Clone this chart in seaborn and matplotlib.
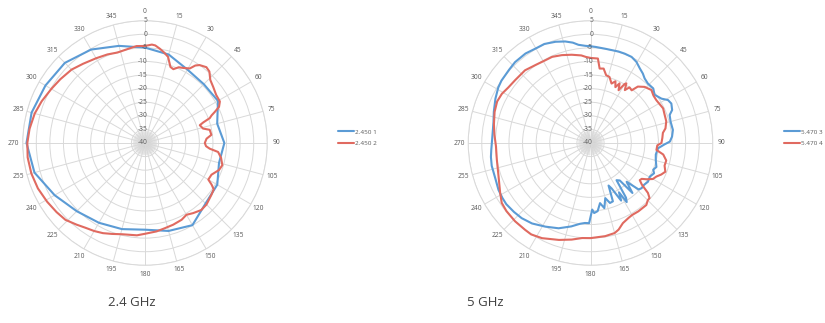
import numpy as np
import pandas as pd
import matplotlib
matplotlib.use("Agg")
import matplotlib.pyplot as plt
import matplotlib.transforms as mtransforms
from matplotlib.lines import Line2D
import seaborn as sns

# ---- data: radiation patterns (angle in degrees, gain in dB) ----
ang_24_1 = list(range(0, 360, 15))
gain_24_1 = [-4.9, -6.3, -8.8, -9.4, -9.0, -12.5, -10.8, -11.8, -9.3, -8.5, -5.1, -6.5,
             -8.1, -7.2, -6.1, -4.5, -1.6, 2.1, 3.6, 3.2, 2.3, 1.7, -0.3, -3.0]

ang_24_2 = [0, 4, 6, 9, 12, 15, 18.5, 21, 24, 27, 31, 33, 35, 39, 42, 46, 50.5, 56, 61, 64,
            66, 67.5, 69, 70.5, 72, 76, 78.5, 83, 86, 90, 93, 95, 97, 101, 106, 110, 115.5,
            120, 122, 124, 128, 135, 140, 145.5, 150, 154.5, 161, 167, 172.5, 180, 185, 194,
            200, 205, 210, 215, 220, 226, 232, 239, 247, 255, 263, 270, 277, 285, 292, 300,
            307, 315, 322, 330, 337, 343, 350, 355]
gain_24_2 = [-4.3, -3.7, -3.9, -4.9, -6.0, -7.2, -10.5, -10.9, -9.5, -9.0, -8.0, -6.0, -5.0,
             -4.1, -4.6, -6.6, -7.5, -8.4, -8.5, -9.7, -11.9, -13.5, -14.5, -17.2, -18.8,
             -18.0, -15.7, -15.4, -17.3, -18.0, -17.5, -16.1, -12.9, -11.5, -10.4, -11.0,
             -12.9, -13.1, -11.1, -9.5, -9.0, -8.0, -7.8, -8.7, -9.5, -8.7, -8.2, -7.8, -7.2,
             -6.6, -5.9, -5.4, -4.4, -3.4, -2.6, -1.9, -0.8, 0.7, 1.3, 2.0, 2.8, 3.3, 3.5,
             3.3, 2.8, 2.0, 1.0, -0.2, -1.0, -1.8, -3.0, -4.0, -4.6, -5.2, -4.8, -4.2]

ang_5_3 = [0, 3, 9, 17, 21, 25.5, 29.5, 33.5, 37, 40, 44, 49, 53, 58, 61, 64, 68, 70.5, 75,
           81, 85.5, 89, 91, 94.5, 100, 104.5, 110, 113, 115.5, 119.5, 124, 128, 131.5, 134,
           137, 140, 142, 145, 147, 148.5, 150, 152, 155, 157, 159, 162, 165, 168, 171, 174,
           177, 178.5, 181, 184, 187.5, 193, 200.5, 208.5, 216, 222.5, 228, 234, 238, 243,
           249, 257, 262, 266, 270, 276, 282, 288, 295, 301, 305, 312, 317, 324, 330, 335,
           341, 346, 350, 353, 357]
gain_5_3 = [-4.4, -4.6, -4.9, -4.8, -4.8, -4.9, -5.7, -7.1, -8.0, -9.0, -9.6, -9.4, -10.5,
            -9.2, -7.4, -6.9, -7.6, -9.1, -9.5, -9.3, -9.9, -10.8, -12.7, -15.1, -15.6, -15.2,
            -14.2, -14.9, -14.1, -14.9, -14.5, -15.0, -14.9, -15.4, -20.5, -16.0, -22.5,
            -23.3, -16.0, -14.5, -19.0, -16.0, -21.5, -23.0, -17.0, -16.8, -19.0, -15.5,
            -17.6, -14.8, -14.2, -15.5, -10.5, -10.5, -10.0, -8.5, -6.5, -5.0, -3.4, -2.5,
            -2.1, -1.7, -1.8, -2.0, -2.6, -2.7, -3.0, -3.4, -3.7, -3.8, -3.5, -2.6, -1.4,
            -0.4, 0.0, 0.3, 0.7, 0.7, 0.2, 0.2, -0.6, -1.5, -2.5, -3.6, -4.2]

ang_5_4 = [0, 5, 7, 10, 13, 16, 19.5, 22, 24, 26, 28, 30, 31, 33, 35, 38, 40, 44, 49, 53, 57,
           64.5, 69, 74, 79, 82, 86, 90, 92, 96, 99, 103, 107, 111, 114, 117, 120, 123, 125,
           127, 129, 131, 133, 135, 138, 145, 150, 153, 158, 162, 165, 171, 180, 185, 191,
           198, 207, 213, 217, 224, 231, 236, 241, 250, 260, 268, 275, 281, 288, 294, 299,
           304, 310, 318, 325, 331, 336, 342, 348, 354, 357]
gain_5_4 = [-8.7, -8.8, -12.4, -12.2, -14.4, -14.7, -16.8, -15.5, -17.5, -15.6, -18.0, -15.0,
            -14.4, -16.8, -15.0, -15.4, -12.9, -11.3, -10.3, -11.0, -11.1, -10.4, -10.8,
            -11.0, -11.9, -13.1, -13.5, -13.9, -15.4, -15.6, -12.9, -11.4, -11.5, -10.5,
            -11.5, -12.8, -13.5, -15.5, -17.0, -17.3, -15.7, -12.0, -10.3, -10.2, -9.3,
            -9.3, -9.4, -9.1, -8.2, -6.5, -5.7, -5.3, -5.0, -4.9, -3.8, -2.5, -0.7, 0.1,
            0.0, 0.0, -0.2, -0.6, -2.0, -4.0, -5.0, -5.2, -4.5, -3.8, -2.9, -2.4, -2.7,
            -3.5, -3.9, -4.0, -4.9, -5.3, -5.3, -6.0, -6.8, -7.6, -8.3]

series_names_24 = ["2.450 1", "2.450 2"]
series_names_5 = ["5.470 3", "5.470 4"]
captions = ["2.4 GHz", "5 GHz"]
ring_values = list(range(5, -45, -5))
angle_labels = list(range(0, 360, 15))

BLUE = "#5B9BD5"
RED = "#E06A60"
GRID = "#D9D9D9"
LABEL = "#595959"

sns.set_theme(style="white")
plt.rcParams["font.family"] = ["Open Sans", "DejaVu Sans"]

W, H = 825, 323
fig = plt.figure(figsize=(W / 100, H / 100), dpi=100)
fig.patch.set_facecolor("white")

R_PX = 122.3  # outer ring radius in pixels


def frame(df_list):
    parts = []
    for name, ang, val in df_list:
        a = list(ang) + [ang[0] + 360]
        v = list(val) + [val[0]]
        parts.append(pd.DataFrame({"theta": np.deg2rad(a), "gain": v, "series": name}))
    return pd.concat(parts, ignore_index=True)


def polar_panel(cx, cy, series, colors, legend_x, caption, caption_x):
    left = (cx - R_PX) / W
    bottom = (H - cy - R_PX) / H
    ax = fig.add_axes([left, bottom, 2 * R_PX / W, 2 * R_PX / H], projection="polar")
    ax.set_theta_zero_location("N")
    ax.set_theta_direction(-1)
    ax.set_facecolor("white")

    # faint dense spokes converging at the centre
    for t in np.deg2rad(np.arange(0, 360, 5)):
        ax.plot([t, t], [-40, -35.5], color="#C4C4C4", lw=0.3, zorder=0.5)

    df = frame(series)
    for (name, _, _), col in zip(series, colors):
        sns.lineplot(data=df[df["series"] == name], x="theta", y="gain", ax=ax,
                     color=col, lw=1.5, sort=False, estimator=None, zorder=3)

    ax.set_ylim(-40, 5)
    ax.set_yticks(ring_values)
    ax.set_yticklabels([])
    ax.set_xticks(np.deg2rad(angle_labels))
    ax.set_xticklabels([])
    ax.grid(True, color=GRID, lw=0.7)
    ax.spines["polar"].set_color(GRID)
    ax.spines["polar"].set_linewidth(0.7)
    ax.set_xlabel("")
    ax.set_ylabel("")
    ax.tick_params(length=0)

    # ring labels along the 0-degree spoke
    off = mtransforms.offset_copy(ax.transData, fig=fig, x=2.5, y=0, units="dots")
    for v in ring_values:
        ax.text(0, v, str(v), transform=off, ha="right", va="center",
                fontsize=4.8, color=LABEL, zorder=4)
    # angle labels around the rim
    for a in angle_labels:
        ax.text(np.deg2rad(a), 8.3, str(a), ha="center", va="center",
                fontsize=4.8, color=LABEL, clip_on=False)

    handles = [Line2D([], [], color=c, lw=1.5) for c in colors]
    names = [s[0] for s in series]
    fig.legend(handles, names, loc="center left",
               bbox_to_anchor=(legend_x / W, 1 - 137.5 / H), frameon=False,
               fontsize=4.6, handlelength=2.6, handletextpad=0.1,
               labelspacing=0.9, labelcolor=LABEL)

    fig.text(caption_x / W, 1 - 302 / H, caption, ha="center", va="center",
             fontsize=9.5, color="#404040")
    return ax


polar_panel(145, 143,
            [(series_names_24[0], ang_24_1, gain_24_1),
             (series_names_24[1], ang_24_2, gain_24_2)],
            [BLUE, RED], 332, captions[0], 132)
polar_panel(590.5, 143,
            [(series_names_5[0], ang_5_3, gain_5_3),
             (series_names_5[1], ang_5_4, gain_5_4)],
            [BLUE, RED], 778, captions[1], 485)

fig.savefig("out.png", dpi=100, facecolor="white")
